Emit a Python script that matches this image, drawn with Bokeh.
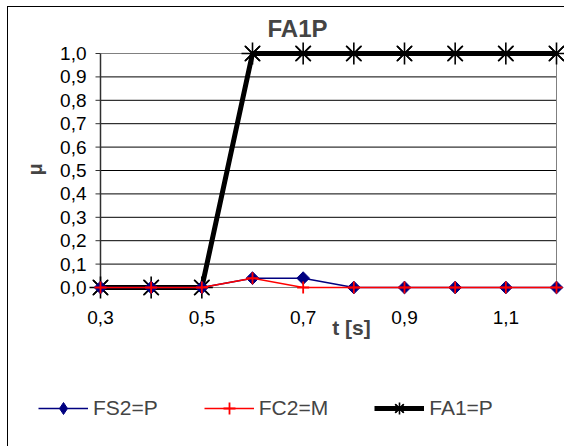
import numpy as np
from bokeh.plotting import figure
from bokeh.models import Range1d, Legend, LegendItem, Label
from bokeh.core.properties import value
from bokeh.embed import file_html
from bokeh.resources import INLINE

# ---- data ----
t = [0.3, 0.4, 0.5, 0.6, 0.7, 0.8, 0.9, 1.0, 1.1, 1.2]
fs2_p = [0, 0, 0, 0.04, 0.04, 0, 0, 0, 0, 0]
fc2_m = [0, 0, 0, 0.04, 0, 0, 0, 0, 0, 0]
fa1_p = [0, 0, 0, 1, 1, 1, 1, 1, 1, 1]
x_ticks = [0.3, 0.5, 0.7, 0.9, 1.1]
x_tick_labels = ["0,3", "0,5", "0,7", "0,9", "1,1"]
y_ticks = [0.0, 0.1, 0.2, 0.3, 0.4, 0.5, 0.6, 0.7, 0.8, 0.9, 1.0]
y_tick_labels = ["0,0", "0,1", "0,2", "0,3", "0,4", "0,5", "0,6", "0,7", "0,8", "0,9", "1,0"]
title_text = "FA1P"
x_title = "t [s]"
y_title = "μ"
names = ["FS2=P", "FC2=M", "FA1=P"]

FONT = "Liberation Sans"

# ---- layout (pixels, page coordinates) ----
OX, OY = 8, 7            # figure content origin on page
W, H = 557, 440
PA_L, PA_R, PA_T, PA_B = 100, 556, 53, 287   # plot area edges

xpx = (t[-1] - t[0]) / (PA_R - PA_L)
ypx = (y_ticks[-1] - y_ticks[0]) / (PA_B - PA_T)
x_start = t[0] - (PA_L - OX) * xpx
y_start = y_ticks[0] - (OY + H - PA_B) * ypx

p = figure(width=W, height=H, output_backend="svg", toolbar_location=None,
           x_range=Range1d(x_start, x_start + W * xpx),
           y_range=Range1d(y_start, y_start + H * ypx),
           x_axis_location=None, y_axis_location=None,
           min_border=0)
p.styles = {"margin-left": "7px", "margin-top": "6px",
            "border-left": "1px solid black", "border-top": "1px solid black"}
p.outline_line_color = None
p.xgrid.visible = False
p.ygrid.visible = False
p.background_fill_color = "white"
p.border_fill_color = "white"


def sx(page_x):
    return page_x - OX


def sy(page_y):
    return OY + H - page_y


# plot-area lines built from data
x0, x1 = t[0], t[-1]
grid_y = y_ticks[1:-1]
p.segment(x0=[x0] * len(grid_y), x1=[x1] * len(grid_y), y0=grid_y, y1=grid_y,
          line_color="#000000", line_width=1)
p.segment(x0=[x0], x1=[x1], y0=[y_ticks[-1]], y1=[y_ticks[-1]], line_color="#808080", line_width=1)
p.segment(x0=[x1], x1=[x1], y0=[y_ticks[0]], y1=[y_ticks[-1]], line_color="#808080", line_width=1)
p.segment(x0=[x0], x1=[x1], y0=[y_ticks[0]], y1=[y_ticks[0]], line_color="#808080", line_width=1)
p.segment(x0=[x0 - 5 * xpx] * len(y_ticks), x1=[x0] * len(y_ticks), y0=y_ticks, y1=y_ticks,
          line_color="#303030", line_width=1)
p.segment(x0=[x0], x1=[x0], y0=[y_ticks[0]], y1=[y_ticks[-1]], line_color="#303030", line_width=1.5)

# tick labels
p.text(x=[x0 - 14 * xpx] * len(y_ticks), y=y_ticks, text=y_tick_labels,
       text_font=value(FONT), text_font_size="19px", text_align="right",
       text_baseline="middle", text_color="black")
p.text(x=x_ticks, y=[y_ticks[0] - 30 * ypx] * len(x_ticks), text=x_tick_labels,
       text_font=value(FONT), text_font_size="19px", text_align="center",
       text_baseline="middle", text_color="black")

# series
r3l = p.line(t, fa1_p, line_color="black", line_width=5)
r3x = p.scatter(t, fa1_p, marker="x", size=20, line_color="black", line_width=1.6)
r3a = p.scatter(t, fa1_p, marker="asterisk", size=22, line_color="black", line_width=1.6)

r1l = p.line(t, fs2_p, line_color="#000080", line_width=1.5)
r1m = p.scatter(t, fs2_p, marker="square", angle=np.pi / 4, size=9,
                fill_color="#000080", line_color="#000080")
# legend-only diamond (legend glyphs are drawn unrotated)
r1k = p.scatter(t, fs2_p, marker="diamond", fill_color="#000080", line_color="#000080",
                visible=False)

r2l = p.line(t, fc2_m, line_color="#ff0000", line_width=1.5)
r2m = p.scatter(t, fc2_m, marker="cross", size=12, line_color="#ff0000", line_width=1.8)

legend = Legend(items=[LegendItem(label=names[0], renderers=[r1l, r1k]),
                       LegendItem(label=names[1], renderers=[r2l, r2m]),
                       LegendItem(label=names[2], renderers=[r3l, r3x, r3a])],
                orientation="horizontal", location=(sx(38), sy(423)))
legend.glyph_width = 50
legend.glyph_height = 30
legend.label_height = 30
legend.label_standoff = 5
legend.spacing = 46
legend.padding = 0
legend.margin = 0
legend.border_line_color = None
legend.background_fill_alpha = 0
legend.label_text_font = FONT
legend.label_text_font_size = "21px"
p.add_layout(legend)

p.add_layout(Label(x=sx(267), y=sy(28), x_units="screen", y_units="screen", text=title_text,
                   text_font=FONT, text_font_size="24px", text_font_style="bold",
                   text_align="left", text_baseline="middle"))
p.add_layout(Label(x=sx(351), y=sy(327), x_units="screen", y_units="screen", text=x_title,
                   text_font=FONT, text_font_size="21px", text_font_style="bold",
                   text_align="center", text_baseline="middle"))
p.add_layout(Label(x=sx(34), y=sy(169), x_units="screen", y_units="screen", text=y_title,
                   angle=np.pi / 2, text_font=FONT, text_font_size="20px",
                   text_font_style="bold", text_align="center", text_baseline="middle"))

open("out.html", "w").write(file_html(p, INLINE))
